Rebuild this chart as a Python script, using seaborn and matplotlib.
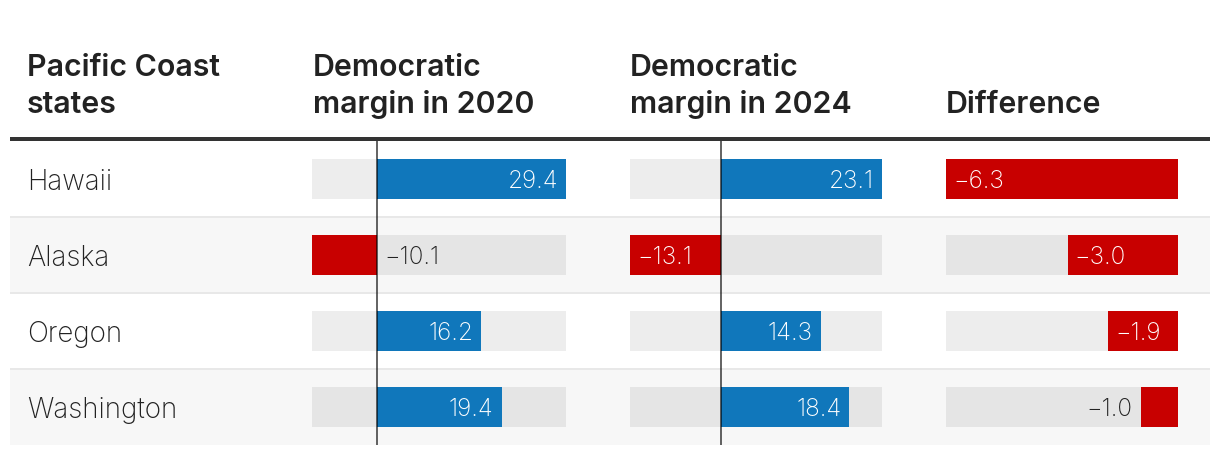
import matplotlib
matplotlib.use("Agg")
import matplotlib.pyplot as plt
import seaborn as sns
import pandas as pd

# ---------------- data ----------------
states = ["Hawaii", "Alaska", "Oregon", "Washington"]
margin_2020 = [29.4, -10.1, 16.2, 19.4]
margin_2024 = [23.1, -13.1, 14.3, 18.4]
difference = [-6.3, -3.0, -1.9, -1.0]
header_states = ["Pacific Coast", "states"]
header_2020 = ["Democratic", "margin in 2020"]
header_2024 = ["Democratic", "margin in 2024"]
header_diff = ["", "Difference"]

# ---------------- style ----------------
sns.set_theme(style="white")
plt.rcParams['font.family'] = ['Inter', 'DejaVu Sans']

BLUE = "#1077bb"
RED = "#c80000"
DARK = "#222222"
ROW_ALT = "#f7f7f7"
SEP = "#e8e8e8"

W, H = 1220, 454
DPI = 100
PT = 72.0 / DPI  # points per pixel

fig = plt.figure(figsize=(W / DPI, H / DPI), dpi=DPI)
fig.patch.set_facecolor("white")

bg = fig.add_axes([0, 0, 1, 1])
bg.set_xlim(0, W)
bg.set_ylim(H, 0)
bg.axis("off")

TOP = 141
ROW_H = 76
LEFT, RIGHT = 10, 1210
n = len(states)

# row backgrounds and separators
for i in range(n):
    y0 = TOP + i * ROW_H
    if i % 2 == 1:
        bg.add_patch(plt.Rectangle((LEFT, y0), RIGHT - LEFT, ROW_H,
                                   facecolor=ROW_ALT, edgecolor="none", zorder=0))
    if i > 0:
        bg.plot([LEFT, RIGHT], [y0, y0], color=SEP, lw=2 * PT, zorder=1,
                solid_capstyle="butt")
# header rule
bg.plot([LEFT, RIGHT], [139, 139], color="#333333", lw=4 * PT, zorder=2,
        solid_capstyle="butt")

# headers
HEADER_FS = 21.8
for x, lines in [(27, header_states), (313, header_2020), (630, header_2024), (946, header_diff)]:
    for j, line in enumerate(lines):
        if line:
            bg.text(x, 76 + j * 37, line, fontsize=HEADER_FS, fontweight="semibold",
                    color=DARK, va="baseline", ha="left")

# row labels
for i, s in enumerate(states):
    yc = TOP + i * ROW_H + ROW_H / 2
    bg.text(27, yc + 11, s, fontsize=20, fontweight="light", color=DARK,
            va="baseline", ha="left")

# ---------------- bar columns ----------------
BAR_W = 40 / ROW_H
LABEL_FS = 17.5
renderer = fig.canvas.get_renderer()


def column(x0, x1, values, zero_line):
    ax = fig.add_axes([x0 / W, 1 - (TOP + n * ROW_H) / H, (x1 - x0) / W, n * ROW_H / H])
    ax.patch.set_alpha(0)
    xmin, xmax = min(values + [0]), max(values + [0])
    df = pd.DataFrame({"state": states, "value": values})
    # background track
    ax.barh(range(n), width=xmax - xmin, left=xmin, height=BAR_W,
            color="black", alpha=0.07, lw=0, zorder=0)
    pal = {s: (BLUE if v > 0 else RED) for s, v in zip(states, values)}
    sns.barplot(data=df, x="value", y="state", hue="state", palette=pal,
                orient="h", width=BAR_W, legend=False, saturation=1, ax=ax,
                zorder=1, linewidth=0)
    ax.set_xlim(xmin, xmax)
    ax.set_ylim(n - 0.5, -0.5)
    ax.axis("off")
    if zero_line:
        ax.axvline(0, color="black", alpha=0.6, lw=2 * PT, zorder=3)
    px_per_unit = (x1 - x0) / (xmax - xmin)
    fs_px = LABEL_FS / PT
    dy = -0.727 * fs_px / 2 * PT  # center cap height on the bar
    for i, v in enumerate(values):
        txt = f"{v:.1f}".replace("-", "\u2212")
        if v > 0:
            ax.annotate(txt, (v, i), xytext=(-8 * PT, dy), textcoords="offset points",
                        ha="right", va="baseline", color="white",
                        fontsize=LABEL_FS, fontweight="light", zorder=4)
            continue
        t = ax.annotate(txt, (v, i), xytext=(7 * PT, dy), textcoords="offset points",
                        ha="left", va="baseline", color="white",
                        fontsize=LABEL_FS, fontweight="light", zorder=4)
        tw = t.get_window_extent(renderer).width
        if abs(v) * px_per_unit < tw + 14:
            t.remove()
            if xmax > 0:
                ax.annotate(txt, (0, i), xytext=(7 * PT, dy), textcoords="offset points",
                            ha="left", va="baseline", color=DARK,
                            fontsize=LABEL_FS, fontweight="light", zorder=4)
            else:
                ax.annotate(txt, (v, i), xytext=(-9 * PT, dy), textcoords="offset points",
                            ha="right", va="baseline", color=DARK,
                            fontsize=LABEL_FS, fontweight="light", zorder=4)
    return ax


column(312, 566, margin_2020, True)
column(630, 882, margin_2024, True)
column(946, 1178, difference, False)

fig.savefig("out.png", dpi=DPI, facecolor="white")
